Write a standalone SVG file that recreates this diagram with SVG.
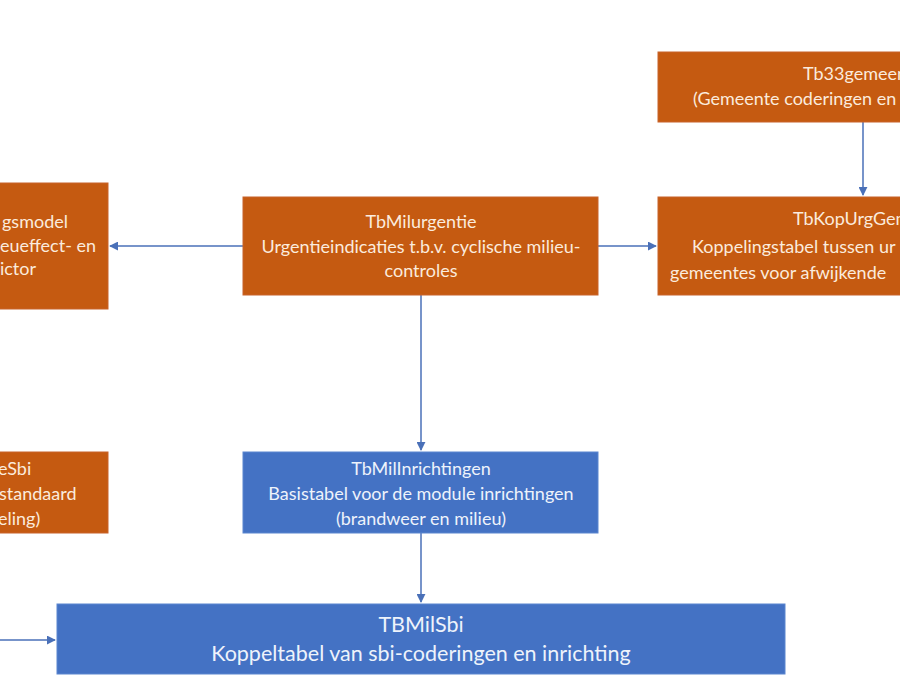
<svg xmlns="http://www.w3.org/2000/svg" width="900" height="700" viewBox="0 0 900 700">
<style>
.o{fill:#C55A11;stroke:#C8632A;stroke-width:1}
.b{fill:#4472C4;stroke:#5B86CF;stroke-width:1}
.t{font-family:Lato,"Liberation Sans",sans-serif;font-size:18px;fill:#FBEBDD}
.tb{font-family:Lato,"Liberation Sans",sans-serif;font-size:18px;fill:#EEF3FB}
.c{text-anchor:middle}
.e{text-anchor:end}
.big{font-size:21.5px}
.ln{stroke:#4A70B8;stroke-width:1.5;fill:none;marker-end:url(#ah)}
</style>
<defs>
<marker id="ah" viewBox="0 0 10 10" refX="9" refY="5" markerWidth="6" markerHeight="6" markerUnits="strokeWidth" orient="auto">
<path d="M0,0 L10,5 L0,10 z" fill="#4A70B8"/>
</marker>
</defs>
<rect width="900" height="700" fill="#FFFFFF"/>
<g id="connectors">
<line class="ln" x1="243" y1="246" x2="110" y2="246"/>
<line class="ln" x1="598" y1="246" x2="656" y2="246"/>
<line class="ln" x1="863" y1="122" x2="863" y2="195"/>
<line class="ln" x1="421" y1="295" x2="421" y2="450"/>
<line class="ln" x1="421" y1="533" x2="421" y2="602"/>
<line class="ln" x1="0" y1="640" x2="55" y2="640"/>
</g>
<g id="prioriteringsmodel">
<rect class="o" x="-20" y="183" width="128" height="126"/>
<text class="t e" x="68" y="228">gsmodel</text>
<text class="t e" x="96" y="252">eueffect- en</text>
<text class="t e" x="36" y="275">ictor</text>
</g>
<g id="tbmilurgentie">
<rect class="o" x="243" y="197" width="355" height="98"/>
<text class="t c" x="421" y="228">TbMilurgentie</text>
<text class="t c" x="421" y="253">Urgentieindicaties t.b.v. cyclische milieu-</text>
<text class="t c" x="421" y="277">controles</text>
</g>
<g id="tb33gemeenten">
<rect class="o" x="658" y="52" width="262" height="70"/>
<text class="t" x="803" y="80">Tb33gemeen</text>
<text class="t" x="693" y="105">(Gemeente coderingen en</text>
</g>
<g id="tbkopurggem">
<rect class="o" x="658" y="197" width="262" height="98"/>
<text class="t" x="793" y="225">TbKopUrgGem</text>
<text class="t" x="692" y="253">Koppelingstabel tussen ur</text>
<text class="t" x="670" y="279">gemeentes voor afwijkende</text>
</g>
<g id="tbcodesbi">
<rect class="o" x="-20" y="452" width="128" height="81"/>
<text class="t" x="-2" y="475">eSbi</text>
<text class="t" x="-1" y="500">standaard</text>
<text class="t" x="-2" y="525">eling)</text>
</g>
<g id="tbmilinrichtingen">
<rect class="b" x="243" y="452" width="355" height="81"/>
<text class="tb c" x="421" y="475">TbMilInrichtingen</text>
<text class="tb c" x="421" y="500">Basistabel voor de module inrichtingen</text>
<text class="tb c" x="421" y="525">(brandweer en milieu)</text>
</g>
<g id="tbmilsbi">
<rect class="b" x="57" y="604" width="728" height="70"/>
<text class="tb c big" x="421" y="632">TBMilSbi</text>
<text class="tb c big" x="421" y="661">Koppeltabel van sbi-coderingen en inrichting</text>
</g>
</svg>
